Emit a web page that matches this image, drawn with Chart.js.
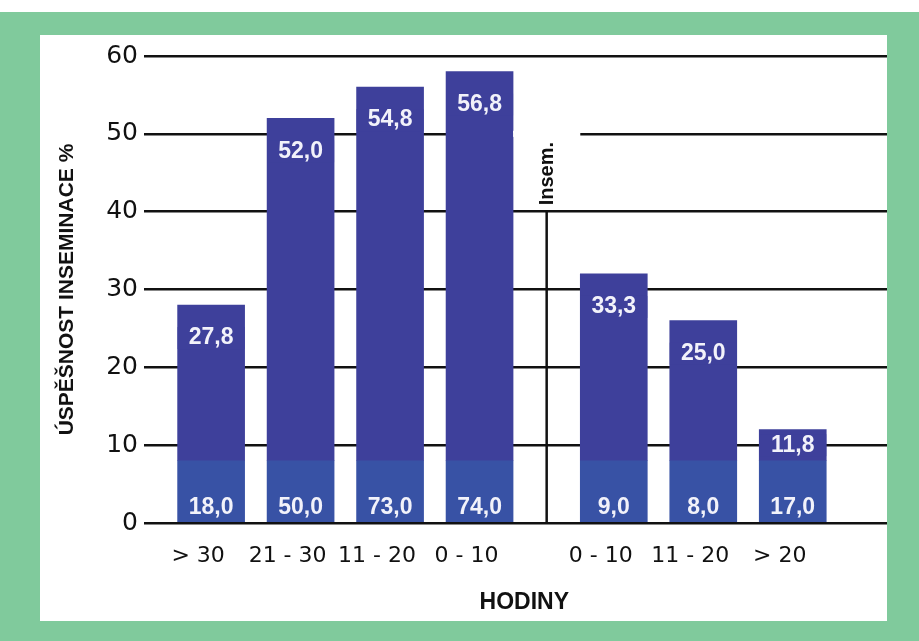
<!DOCTYPE html>
<html>
<head>
<meta charset="utf-8">
<script src="https://cdn.jsdelivr.net/npm/chart.js@4"></script>
<style>
  html, body { margin: 0; padding: 0; background: #fff; }
  .frame { position: absolute; left: 0; top: 12px; width: 919px; height: 629px; background: #80ca9c; }
  .panel { position: absolute; left: 40px; top: 35px; width: 847px; height: 586px; background: #fff; overflow: hidden; }
  canvas { position: absolute; left: 0; top: 0; }
</style>
</head>
<body>
<div class="frame"></div>
<div class="panel"><canvas id="chart" width="880" height="586"></canvas></div>
<script>
// hours before / after insemination
const categories = ['> 30', '21 - 30', '11 - 20', '0 - 10', '0 - 10', '11 - 20', '> 20'];
// bar heights as drawn in the picture
const barHeights = [28, 52, 56, 58, 32, 26, 12];
// printed success rates (%)
const successRates = [27.8, 52.0, 54.8, 56.8, 33.3, 25.0, 11.8];
// printed numbers in the light band
const inseminations = [18.0, 50.0, 73.0, 74.0, 9.0, 8.0, 17.0];
const bandHeights = [8, 8, 8, 8, 8, 8, 8];
const yTickStep = 10;
const yMax = 60;

// layout: each bar sits on its own slot, with a wider gap at the insemination line
const SLOTS = [1, 3, 5, 7, 10, 12, 14];
const N_SLOTS = 17;

const DARK = '#3e409b';
const LIGHT = '#3852a5';
const fmt = v => v.toFixed(1).replace('.', ',');

const slotLabels = Array(N_SLOTS).fill('');
const bandData = Array(N_SLOTS).fill(null);
const topData = Array(N_SLOTS).fill(null);
SLOTS.forEach((s, i) => {
  slotLabels[s] = categories[i];
  bandData[s] = bandHeights[i];
  topData[s] = barHeights[i] - bandHeights[i];
});

const overlay = {
  id: 'overlay',
  afterDraw(chart) {
    const ctx = chart.ctx;
    const xs = chart.scales.x, ys = chart.scales.y;
    const band = chart.getDatasetMeta(0).data;
    const tops = chart.getDatasetMeta(1).data;
    ctx.save();

    // gap in the 50 line between the two groups
    const b4 = tops[SLOTS[3]], b5 = tops[SLOTS[4]];
    const y50 = ys.getPixelForValue(50);
    ctx.fillStyle = '#fff';
    ctx.fillRect(b4.x + b4.width / 2, y50 - 3, (b5.x - b5.width / 2) - (b4.x + b4.width / 2), 6);

    // separator line
    const sepX = (xs.getPixelForValue(8) + xs.getPixelForValue(9)) / 2;
    ctx.strokeStyle = '#111';
    ctx.lineWidth = 2.5;
    ctx.beginPath();
    ctx.moveTo(sepX, ys.getPixelForValue(40));
    ctx.lineTo(sepX, ys.getPixelForValue(0));
    ctx.stroke();

    ctx.save();
    ctx.translate(sepX + 1, ys.getPixelForValue(40) - 38);
    ctx.rotate(-Math.PI / 2);
    ctx.fillStyle = '#111';
    ctx.font = 'bold 20px "Liberation Sans", Arial, sans-serif';
    ctx.textAlign = 'center';
    ctx.textBaseline = 'middle';
    ctx.fillText('Insem.', 0, 0);
    ctx.restore();

    // value labels
    ctx.font = 'bold 23px "Liberation Sans", Arial, sans-serif';
    ctx.textAlign = 'center';
    ctx.textBaseline = 'middle';
    SLOTS.forEach((s, i) => {
      const t = tops[s], b = band[s];
      const cy = t.y + Math.min(33, (t.base - t.y) / 2);
      ctx.fillStyle = DARK;
      ctx.fillRect(t.x - t.width / 2, cy - 11, t.width, 22);
      ctx.fillStyle = '#f2f2fa';
      ctx.fillText(fmt(successRates[i]), t.x, cy);
      ctx.fillText(fmt(inseminations[i]), b.x, b.base - 14);
    });
    ctx.restore();
  }
};

new Chart(document.getElementById('chart'), {
  type: 'bar',
  data: {
    labels: slotLabels,
    datasets: [
      { label: 'n', data: bandData, backgroundColor: LIGHT, barThickness: 67 },
      { label: '%', data: topData, backgroundColor: DARK, barThickness: 67 },
    ],
  },
  options: {
    responsive: false,
    animation: false,
    layout: { padding: { left: 0, top: 21, right: 15.4, bottom: 0 } },
    plugins: { legend: { display: false }, tooltip: { enabled: false } },
    scales: {
      x: {
        stacked: true,
        offset: true,
        grid: { display: false, drawTicks: false },
        border: { display: false },
        ticks: {
          autoSkip: false, maxRotation: 0, padding: 20, labelOffset: -13,
          color: '#111', font: { family: 'DejaVu Sans', size: 22 },
        },
        title: {
          display: true, text: 'HODINY', color: '#111',
          font: { family: 'Liberation Sans', weight: 'bold', size: 23 },
          padding: { top: 0, bottom: 5 },
        },
        afterFit(s) { s.height = 98; },
      },
      y: {
        stacked: true,
        min: 0, max: yMax,
        z: 1,
        grid: { color: '#111', lineWidth: 2.5, drawTicks: false },
        border: { display: false },
        ticks: {
          stepSize: yTickStep, padding: 6,
          color: '#111', font: { family: 'DejaVu Sans', size: 25 },
        },
        title: {
          display: true, text: 'ÚSPĚŠNOST INSEMINACE %', color: '#111',
          font: { family: 'Liberation Sans', weight: 'bold', size: 21 },
          padding: { top: 15, bottom: 0 },
        },
        afterFit(s) { s.width = 104; },
      },
    },
  },
  plugins: [overlay],
});
</script>
</body>
</html>
